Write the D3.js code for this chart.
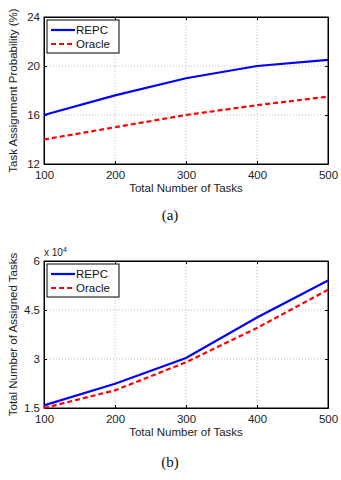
<!DOCTYPE html>
<html><head><meta charset="utf-8">
<script src="https://cdn.jsdelivr.net/npm/d3@7"></script>
<style>body{margin:0;background:#fff}svg{display:block}text{font-family:"Liberation Sans",Arial,sans-serif}</style>
</head><body>
<script>
const tasks = [100, 200, 300, 400, 500];
const xTicks = [100, 200, 300, 400, 500];
const probREPC = [16, 17.6, 19, 20, 20.5];
const probOracle = [14, 15, 16, 16.8, 17.5];
const probTicks = [12, 16, 20, 24];
const assignREPC = [1.58, 2.24, 3.03, 4.27, 5.4];
const assignOracle = [1.5, 2.04, 2.9, 3.95, 5.12];
const assignTicks = [1.5, 3, 4.5, 6];
const seriesNames = ["REPC", "Oracle"];

const svg = d3.select("body").append("svg").attr("width", 341).attr("height", 480);

function panel(top, yDomain, yTicks, s1, s2, yLabel, caption, captionY, exponent) {
  const L = 44, R = 328, T = top, B = top + 147;
  const x = d3.scaleLinear().domain([100, 500]).range([L, R]);
  const y = d3.scaleLinear().domain(yDomain).range([B, T]);
  const g = svg.append("g");
  g.selectAll(".gx").data(xTicks.slice(1, -1)).enter().append("line")
    .attr("x1", d => x(d)).attr("x2", d => x(d)).attr("y1", T).attr("y2", B)
    .attr("stroke", "#aaa").attr("stroke-width", 0.8).attr("stroke-dasharray", "1,2");
  g.selectAll(".gy").data(yTicks.slice(1, -1)).enter().append("line")
    .attr("y1", d => y(d)).attr("y2", d => y(d)).attr("x1", L).attr("x2", R)
    .attr("stroke", "#aaa").attr("stroke-width", 0.8).attr("stroke-dasharray", "1,2");
  const xa = g.append("g").attr("transform", `translate(0,${B})`)
    .call(d3.axisBottom(x).tickValues(xTicks).tickSizeInner(-3).tickSizeOuter(0).tickPadding(7));
  const xt = g.append("g").attr("transform", `translate(0,${T})`)
    .call(d3.axisTop(x).tickValues(xTicks).tickSizeInner(-3).tickSizeOuter(0).tickFormat(""));
  const ya = g.append("g").attr("transform", `translate(${L},0)`)
    .call(d3.axisLeft(y).tickValues(yTicks).tickSizeInner(-3).tickSizeOuter(0).tickPadding(4).tickFormat(d => d));
  const yr = g.append("g").attr("transform", `translate(${R},0)`)
    .call(d3.axisRight(y).tickValues(yTicks).tickSizeInner(-3).tickSizeOuter(0).tickFormat(""));
  [xa, xt, ya, yr].forEach(a => {
    a.selectAll("path").attr("stroke", "#000").attr("stroke-width", 1);
    a.selectAll("line").attr("stroke", "#000");
    a.selectAll("text").attr("font-size", 11.5).attr("fill", "#222")
      .style("font-family", '"Liberation Sans",Arial,sans-serif');
  });
  g.append("rect").attr("x", L).attr("y", T).attr("width", R - L).attr("height", B - T)
    .attr("fill", "none").attr("stroke", "#000").attr("stroke-width", 1);
  const line = d3.line().x((d, i) => x(tasks[i])).y(d => y(d));
  g.append("path").datum(s1).attr("d", line).attr("fill", "none").attr("stroke", "#0000ff").attr("stroke-width", 2.2);
  g.append("path").datum(s2).attr("d", line).attr("fill", "none").attr("stroke", "#ff0000").attr("stroke-width", 2.2).attr("stroke-dasharray", "5,3");
  const lx = 47, ly = T + 3;
  g.append("rect").attr("x", lx).attr("y", ly).attr("width", 72).attr("height", 33)
    .attr("fill", "#fff").attr("stroke", "#000").attr("stroke-width", 1);
  const colors = ["#0000ff", "#ff0000"], dash = [null, "5,3"];
  seriesNames.forEach((n, i) => {
    const yy = ly + 10 + i * 14;
    g.append("line").attr("x1", lx + 4).attr("x2", lx + 28).attr("y1", yy).attr("y2", yy)
      .attr("stroke", colors[i]).attr("stroke-width", 2.2).attr("stroke-dasharray", dash[i]);
    g.append("text").attr("x", lx + 29).attr("y", yy + 4).attr("font-size", 11.5).attr("fill", "#111").text(n);
  });
  g.append("text").attr("x", (L + R) / 2).attr("y", B + 28).attr("text-anchor", "middle")
    .attr("font-size", 11.5).attr("fill", "#222").text("Total Number of Tasks");
  g.append("text").attr("transform", `translate(17,${(T + B) / 2}) rotate(-90)`).attr("text-anchor", "middle")
    .attr("font-size", 11.5).attr("fill", "#222").text(yLabel);
  if (exponent) {
    const e = g.append("text").attr("x", L).attr("y", T - 5).attr("font-size", 10).attr("fill", "#222");
    e.append("tspan").text("x 10");
    e.append("tspan").attr("dy", -4).attr("font-size", 7).text("4");
  }
  svg.append("text").attr("x", 170).attr("y", captionY).attr("text-anchor", "middle")
    .style("font-family", '"Liberation Serif","Times New Roman",serif')
    .attr("font-size", 15).attr("fill", "#111").text(caption);
}

panel(17, [12, 24], probTicks, probREPC, probOracle, "Task Assignment Probability (%)", "(a)", 220, false);
panel(261, [1.5, 6], assignTicks, assignREPC, assignOracle, "Total Number of Assigned Tasks", "(b)", 467, true);
</script>
</body></html>
